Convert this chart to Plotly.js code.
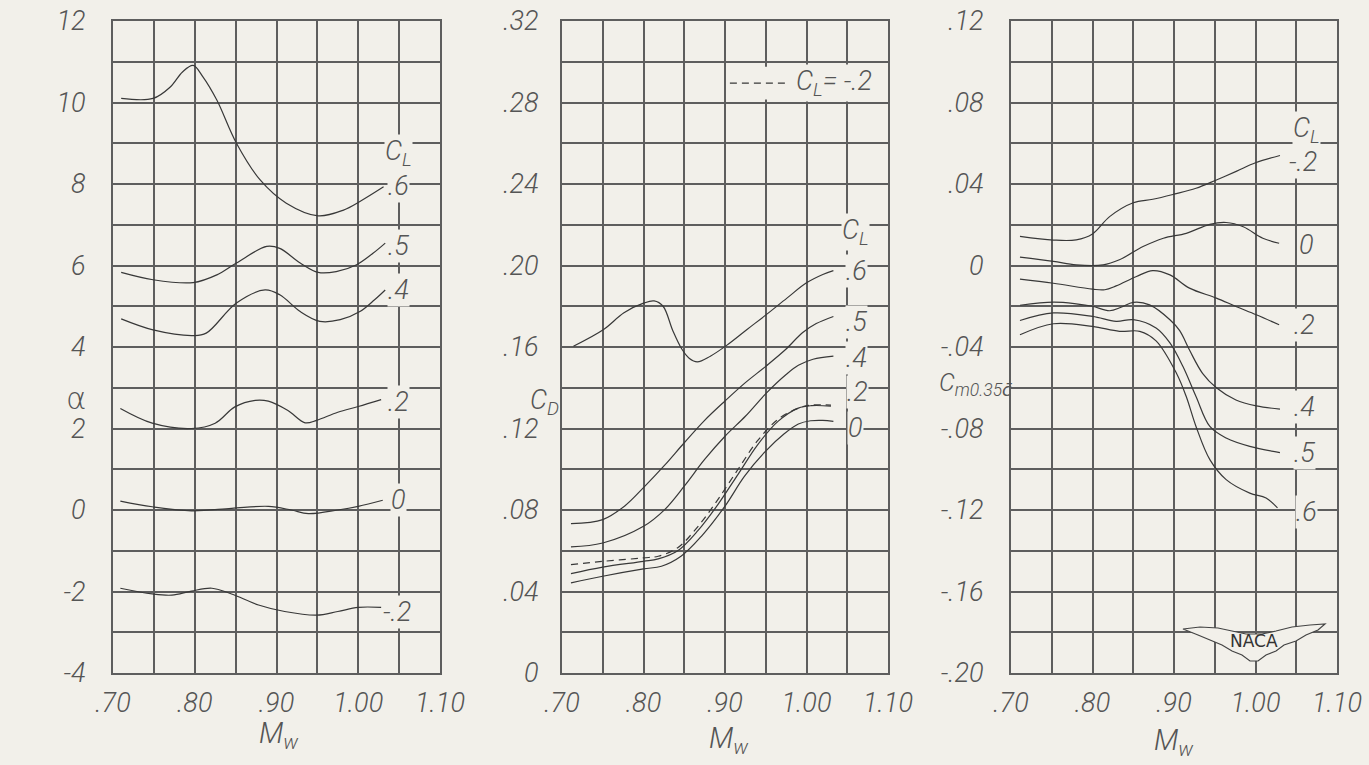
<!DOCTYPE html>
<html><head><meta charset="utf-8">
<script src="https://cdn.plot.ly/plotly-3.0.1.min.js"></script>
<style>html,body{margin:0;padding:0;background:#f2f0ea;} #chart{width:1369px;height:765px;}</style>
</head><body><div id="chart"></div>
<script>
// ---------- DATA ----------
// Panel 1: angle of attack alpha vs Mach number M_w
const m1_06 = [0.710, 0.749, 0.770, 0.785, 0.798, 0.810, 0.827, 0.851, 0.880, 0.912, 0.951, 0.982, 1.002, 1.031];
const a_06  = [10.10, 10.10, 10.38, 10.75, 10.91, 10.63, 10.06, 9.00, 8.10, 7.53, 7.22, 7.36, 7.57, 7.93];
const m1_05 = [0.710, 0.749, 0.798, 0.827, 0.851, 0.888, 0.904, 0.929, 0.951, 0.973, 0.998, 1.018, 1.033];
const a_05  = [5.83, 5.65, 5.58, 5.77, 6.06, 6.47, 6.42, 6.06, 5.83, 5.85, 6.02, 6.30, 6.55];
const m1_04 = [0.710, 0.749, 0.798, 0.814, 0.851, 0.886, 0.904, 0.929, 0.953, 0.978, 1.002, 1.020, 1.033];
const a_04  = [4.69, 4.42, 4.28, 4.34, 5.08, 5.40, 5.28, 4.87, 4.63, 4.67, 4.87, 5.16, 5.40];
const m1_02 = [0.709, 0.748, 0.796, 0.825, 0.849, 0.874, 0.890, 0.914, 0.935, 0.949, 0.975, 1.000, 1.028];
const a_02  = [2.49, 2.13, 2.00, 2.13, 2.53, 2.69, 2.67, 2.44, 2.14, 2.20, 2.40, 2.54, 2.71];
const m1_00 = [0.709, 0.748, 0.796, 0.845, 0.890, 0.918, 0.939, 0.975, 1.000, 1.030];
const a_00  = [0.22, 0.08, -0.02, 0.04, 0.09, 0.00, -0.09, 0.00, 0.09, 0.24];
const m1_m02 = [0.709, 0.748, 0.772, 0.796, 0.821, 0.845, 0.878, 0.910, 0.949, 0.975, 1.000, 1.028];
const a_m02  = [-1.92, -2.06, -2.09, -1.99, -1.92, -2.06, -2.33, -2.49, -2.58, -2.49, -2.39, -2.39];

// Panel 2: drag coefficient C_D vs M_w
const m2_06 = [0.714, 0.751, 0.776, 0.800, 0.813, 0.824, 0.836, 0.847, 0.856, 0.866, 0.882, 0.902, 0.927, 0.951, 0.976, 1.000, 1.020, 1.033];
const cd_06 = [0.1604, 0.1686, 0.1768, 0.1815, 0.1826, 0.1800, 0.1680, 0.1590, 0.1545, 0.1527, 0.1555, 0.1608, 0.1686, 0.1760, 0.1840, 0.1915, 0.1956, 0.1975];
const m2_05 = [0.711, 0.750, 0.777, 0.800, 0.826, 0.850, 0.875, 0.900, 0.925, 0.950, 0.975, 0.995, 1.012, 1.033];
const cd_05 = [0.0733, 0.0753, 0.0820, 0.0910, 0.1020, 0.1130, 0.1240, 0.1335, 0.1425, 0.1505, 0.1590, 0.1670, 0.1715, 0.1750];
const m2_04 = [0.711, 0.750, 0.800, 0.826, 0.850, 0.875, 0.900, 0.925, 0.951, 0.975, 0.990, 1.008, 1.033];
const cd_04 = [0.0619, 0.0638, 0.0720, 0.0802, 0.0917, 0.1048, 0.1162, 0.1260, 0.1375, 0.1465, 0.1510, 0.1540, 0.1555];
const m2_02 = [0.711, 0.750, 0.800, 0.818, 0.842, 0.867, 0.891, 0.916, 0.940, 0.965, 0.990, 1.006, 1.030];
const cd_02 = [0.0488, 0.0520, 0.0548, 0.0560, 0.0600, 0.0700, 0.0825, 0.0975, 0.1120, 0.1235, 0.1300, 0.1312, 0.1310];
const m2_00 = [0.711, 0.750, 0.800, 0.822, 0.846, 0.871, 0.900, 0.924, 0.949, 0.973, 0.990, 1.005, 1.020, 1.033];
const cd_00 = [0.0442, 0.0475, 0.0511, 0.0524, 0.0573, 0.0671, 0.0819, 0.0966, 0.1085, 0.1175, 0.1222, 0.1238, 0.1240, 0.1235];
const m2_m02 = [0.711, 0.750, 0.800, 0.818, 0.842, 0.867, 0.891, 0.916, 0.940, 0.965, 0.990, 1.006, 1.030];
const cd_m02 = [0.0532, 0.0548, 0.0565, 0.0573, 0.0615, 0.0720, 0.0850, 0.1000, 0.1140, 0.1245, 0.1300, 0.1315, 0.1315];

// Panel 3: pitching-moment coefficient C_m0.35c vs M_w
const m3_m02 = [0.711, 0.752, 0.780, 0.800, 0.821, 0.850, 0.874, 0.900, 0.927, 0.952, 0.977, 1.000, 1.030];
const cm_m02 = [0.0143, 0.0125, 0.0126, 0.0155, 0.0240, 0.0308, 0.0325, 0.0350, 0.0379, 0.0420, 0.0463, 0.0504, 0.0540];
const m3_00 = [0.711, 0.752, 0.780, 0.813, 0.833, 0.862, 0.887, 0.915, 0.944, 0.964, 0.985, 1.009, 1.029];
const cm_00 = [0.0041, 0.0020, 0.0003, 0.0003, 0.0028, 0.0093, 0.0134, 0.0158, 0.0202, 0.0211, 0.0190, 0.0134, 0.0109];
const m3_02 = [0.711, 0.752, 0.800, 0.815, 0.829, 0.854, 0.874, 0.895, 0.919, 0.952, 0.976, 1.001, 1.029];
const cm_02 = [-0.0067, -0.0087, -0.0116, -0.0119, -0.0100, -0.0054, -0.0025, -0.0046, -0.0111, -0.0160, -0.0201, -0.0242, -0.0291];
const m3_04 = [0.711, 0.752, 0.780, 0.800, 0.821, 0.835, 0.850, 0.870, 0.895, 0.907, 0.919, 0.935, 0.952, 0.976, 1.001, 1.030];
const cm_04 = [-0.0195, -0.0180, -0.0188, -0.0200, -0.0222, -0.0205, -0.0181, -0.0193, -0.0266, -0.0320, -0.0415, -0.0529, -0.0600, -0.0660, -0.0689, -0.0705];
const m3_05 = [0.711, 0.752, 0.800, 0.829, 0.850, 0.878, 0.895, 0.911, 0.927, 0.944, 0.964, 0.993, 1.030];
const cm_05 = [-0.0270, -0.0233, -0.0250, -0.0274, -0.0266, -0.0307, -0.0380, -0.0496, -0.0643, -0.0790, -0.0847, -0.0888, -0.0918];
const m3_06 = [0.711, 0.752, 0.800, 0.833, 0.858, 0.878, 0.903, 0.915, 0.927, 0.944, 0.964, 0.993, 1.013, 1.027];
const cm_06 = [-0.0340, -0.0286, -0.0299, -0.0323, -0.0323, -0.0370, -0.0529, -0.0643, -0.0790, -0.0953, -0.1051, -0.1117, -0.1141, -0.1190];

// Tick labels (major) and unlabeled grid positions (minor)
const xTickVals = [0.70, 0.80, 0.90, 1.00, 1.10];
const xTickText = ['.70', '.80', '.90', '1.00', '1.10'];
const xMinorVals = [0.75, 0.85, 0.95, 1.05];
const y1TickVals = [-4, -2, 0, 2, 4, 6, 8, 10, 12];
const y1TickText = ['-4', '-2', '0', '2', '4', '6', '8', '10', '12'];
const y1MinorVals = [-3, -1, 1, 3, 5, 7, 9, 11];
const y2TickVals = [0, 0.04, 0.08, 0.12, 0.16, 0.20, 0.24, 0.28, 0.32];
const y2TickText = ['0', '.04', '.08', '.12', '.16', '.20', '.24', '.28', '.32'];
const y2MinorVals = [0.02, 0.06, 0.10, 0.14, 0.18, 0.22, 0.26, 0.30];
const y3TickVals = [-0.20, -0.16, -0.12, -0.08, -0.04, 0, 0.04, 0.08, 0.12];
const y3TickText = ['-.20', '-.16', '-.12', '-.08', '-.04', '0', '.04', '.08', '.12'];
const y3MinorVals = [-0.18, -0.14, -0.10, -0.06, -0.02, 0.02, 0.06, 0.10];
const clLabels = ['.6', '.5', '.4', '.2', '0', '-.2'];

// ---------- STYLE ----------
const PAPER = '#f2f0ea';
const INK = '#383838';
const GRID = '#5e5e5e';
const GW = 2;
const TXT = '#555555';
const FONT = "Roboto, 'DejaVu Sans', sans-serif";
const tickFont = {family: FONT, size: 27, color: TXT, weight: 300, style: 'italic'};
const W = 1369, H = 765;
const px = v => v / W, py = v => 1 - v / H;

function curve(x, y, xa, ya, dash) {
  return {x: x, y: y, xaxis: xa, yaxis: ya, type: 'scatter', mode: 'lines',
    line: {color: INK, width: 1.2, shape: 'spline', smoothing: 1.0, dash: dash || 'solid'},
    hoverinfo: 'skip', showlegend: false};
}

const data = [
  curve(m1_06, a_06, 'x', 'y'), curve(m1_05, a_05, 'x', 'y'), curve(m1_04, a_04, 'x', 'y'),
  curve(m1_02, a_02, 'x', 'y'), curve(m1_00, a_00, 'x', 'y'), curve(m1_m02, a_m02, 'x', 'y'),
  curve(m2_06, cd_06, 'x2', 'y2'), curve(m2_05, cd_05, 'x2', 'y2'), curve(m2_04, cd_04, 'x2', 'y2'),
  curve(m2_02, cd_02, 'x2', 'y2'), curve(m2_00, cd_00, 'x2', 'y2'), curve(m2_m02, cd_m02, 'x2', 'y2', '7px,5px'),
  curve(m3_m02, cm_m02, 'x3', 'y3'), curve(m3_00, cm_00, 'x3', 'y3'), curve(m3_02, cm_02, 'x3', 'y3'),
  curve(m3_04, cm_04, 'x3', 'y3'), curve(m3_05, cm_05, 'x3', 'y3'), curve(m3_06, cm_06, 'x3', 'y3')
];

function minorGrid(vals) {
  return {tickmode: 'array', tickvals: vals, showgrid: true, gridcolor: GRID, gridwidth: GW, ticks: ''};
}
function xAxis(d0, d1, anchor) {
  return {domain: [px(d0), px(d1)], anchor: anchor, range: [0.70, 1.10], tickmode: 'array',
    tickvals: xTickVals, ticktext: xTickText, tickfont: tickFont, ticks: 'outside', ticklen: 5,
    tickcolor: 'rgba(0,0,0,0)', showgrid: true, gridcolor: GRID, gridwidth: GW, minor: minorGrid(xMinorVals),
    showline: true, linecolor: GRID, linewidth: GW, mirror: true, zeroline: false, fixedrange: true, automargin: false};
}
function yAxis(anchor, range, vals, text, minorVals, standoff) {
  return {domain: [py(673), py(21)], anchor: anchor, range: range, tickmode: 'array',
    tickvals: vals, ticktext: text, tickfont: tickFont, ticks: 'outside', ticklen: standoff,
    tickcolor: 'rgba(0,0,0,0)', showgrid: true, gridcolor: GRID, gridwidth: GW, minor: minorGrid(minorVals),
    showline: true, linecolor: GRID, linewidth: GW, mirror: true, zeroline: false, fixedrange: true, automargin: false};
}

const lblFont = {family: FONT, size: 27, color: TXT, weight: 300, style: 'italic'};
function lab(text, xa, ya, x, y, size) {
  return {text: text, xref: xa, yref: ya, x: x, y: y, showarrow: false, xanchor: 'center', yanchor: 'middle',
    bgcolor: PAPER, borderpad: 0, font: Object.assign({}, lblFont, size ? {size: size} : {})};
}
function ptxt(text, x, y, size, fam, style) {
  return {text: text, xref: 'paper', yref: 'paper', x: px(x), y: py(y), showarrow: false,
    xanchor: 'center', yanchor: 'middle',
    font: Object.assign({}, lblFont, {size: size || 30}, fam ? {family: fam} : {}, style ? {style: style} : {})};
}

const CL = 'C<sub>L</sub>';
const annotations = [
  // Panel 1 curve labels
  lab(CL, 'x', 'y', 1.049, 8.76),
  lab(clLabels[0], 'x', 'y', 1.049, 7.95), lab(clLabels[1], 'x', 'y', 1.049, 6.48),
  lab(clLabels[2], 'x', 'y', 1.049, 5.40), lab(clLabels[3], 'x', 'y', 1.049, 2.65),
  lab(clLabels[4], 'x', 'y', 1.049, 0.25), lab(clLabels[5], 'x', 'y', 1.047, -2.5),
  // Panel 2 curve labels
  lab(CL, 'x2', 'y2', 1.060, 0.2163),
  lab(clLabels[0], 'x2', 'y2', 1.061, 0.1971), lab(clLabels[1], 'x2', 'y2', 1.061, 0.1725),
  lab(clLabels[2], 'x2', 'y2', 1.061, 0.1548), lab(clLabels[3], 'x2', 'y2', 1.062, 0.1381),
  lab(clLabels[4], 'x2', 'y2', 1.060, 0.1204),
  lab('C<sub>L</sub>= -.2', 'x2', 'y2', 1.034, 0.2895),
  // Panel 3 curve labels
  lab(CL, 'x3', 'y3', 1.062, 0.0665),
  lab(clLabels[5], 'x3', 'y3', 1.058, 0.0508), lab(clLabels[4], 'x3', 'y3', 1.063, 0.0100),
  lab(clLabels[3], 'x3', 'y3', 1.060, -0.0293), lab(clLabels[2], 'x3', 'y3', 1.060, -0.0695),
  lab(clLabels[1], 'x3', 'y3', 1.060, -0.0920), lab(clLabels[0], 'x3', 'y3', 1.062, -0.1210),
  // Axis titles
  ptxt('α', 76, 398, 31, "'DejaVu Sans', sans-serif", 'normal'),
  ptxt('C<sub>D</sub>', 544, 402, 27),
  ptxt('C<sub>m0.35c̄</sub>', 975, 384, 25),
  ptxt('M<sub>w</sub>', 279, 735, 29),
  ptxt('M<sub>w</sub>', 729, 740, 29),
  ptxt('M<sub>w</sub>', 1174, 742, 29),
  // NACA emblem text
  {text: 'NACA', xref: 'paper', yref: 'paper', x: px(1254), y: py(641), showarrow: false,
   xanchor: 'center', yanchor: 'middle', font: {family: "'DejaVu Sans', sans-serif", size: 17, color: '#333', weight: 500}}
];

// NACA wings outline (pixel coords -> paper)
const wing = [[1183,629],[1200,627],[1218,628],[1232,631],[1246,634],[1254,634],[1262,634],[1276,631],[1292,627],[1310,625],[1325,624],
  [1318,630],[1306,635],[1296,641],[1284,645],[1276,651],[1266,655],[1258,661],[1250,661],[1242,655],[1232,651],[1222,645],[1210,640],[1198,635]];
const wingPath = 'M ' + wing.map(p => px(p[0]).toFixed(5) + ',' + py(p[1]).toFixed(5)).join(' L ') + ' Z';

const shapes = [
  // legend background + dashed sample in panel 2
  {type: 'rect', xref: 'x2', yref: 'y2', x0: 0.903, x1: 1.085, y0: 0.2815, y1: 0.2975,
   fillcolor: PAPER, line: {width: 0}, layer: 'above'},
  {type: 'line', xref: 'x2', yref: 'y2', x0: 0.906, x1: 0.979, y0: 0.2895, y1: 0.2895,
   line: {color: INK, width: 1.2, dash: '7px,5px'}, layer: 'above'},
  {type: 'path', xref: 'paper', yref: 'paper', path: wingPath, fillcolor: PAPER,
   line: {color: '#444', width: 1.2}, layer: 'above'}
];

const layout = {
  width: W, height: H, margin: {l: 0, r: 0, t: 0, b: 0},
  paper_bgcolor: PAPER, plot_bgcolor: PAPER, showlegend: false,
  xaxis: xAxis(113, 440, 'y'), xaxis2: xAxis(562, 888, 'y2'), xaxis3: xAxis(1011, 1337, 'y3'),
  yaxis: yAxis('x', [-4, 12], y1TickVals, y1TickText, y1MinorVals, 20),
  yaxis2: yAxis('x2', [0, 0.32], y2TickVals, y2TickText, y2MinorVals, 16),
  yaxis3: yAxis('x3', [-0.20, 0.12], y3TickVals, y3TickText, y3MinorVals, 20),
  annotations: annotations, shapes: shapes
};

Plotly.newPlot('chart', data, layout, {staticPlot: true, displayModeBar: false});
</script></body></html>
